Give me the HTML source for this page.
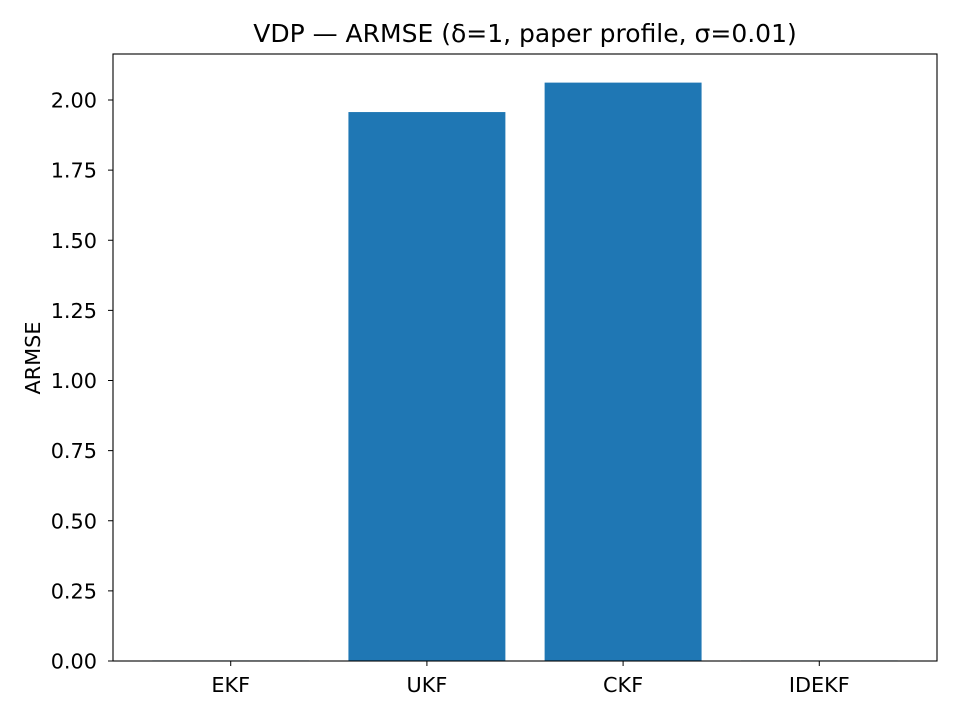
<!DOCTYPE html>
<html><head><meta charset="utf-8"><style>
body{margin:0;background:#fff}
svg text{font-family:"DejaVu Sans","Liberation Sans",sans-serif;fill:#000}
</style></head><body>
<svg id="chart" width="960" height="720" viewBox="0 0 960 720">
<rect width="960" height="720" fill="#fff"/>
<text x="525" y="42" font-size="25" text-anchor="middle">VDP — ARMSE (δ=1, paper profile, σ=0.01)</text>
<text transform="translate(40,358) rotate(-90)" font-size="20.8" text-anchor="middle">ARMSE</text>
<g id="bars"></g><g id="yticks"></g><g id="xticks"></g>
<rect x="113" y="54" width="824" height="607" fill="none" stroke="#000" stroke-width="1.1"/>
</svg>
<script>
const categories=["EKF","UKF","CKF","IDEKF"];
const values=[0.002,1.957,2.062,0.002];
const yTickLabels=["0.00","0.25","0.50","0.75","1.00","1.25","1.50","1.75","2.00"];
const yTickValues=[0,0.25,0.5,0.75,1,1.25,1.5,1.75,2];
const L=113,R=937,T=54,B=661,yMax=2.164,xMin=-0.6,xMax=3.6;
const ns="http://www.w3.org/2000/svg";
const x=v=>L+(v-xMin)/(xMax-xMin)*(R-L);
const y=v=>B-v/yMax*(B-T);
function mk(tag,attrs,parent){const e=document.createElementNS(ns,tag);for(const k in attrs)e.setAttribute(k,attrs[k]);parent.appendChild(e);return e;}
const gb=document.getElementById('bars'),gy=document.getElementById('yticks'),gx=document.getElementById('xticks');
categories.forEach((c,i)=>{
 const x0=x(i-0.4),x1=x(i+0.4);
 const r=mk('rect',{x:x0,y:y(values[i]),width:x1-x0,height:Math.max(B-y(values[i]),0.8),fill:'#1f77b4'},gb);
 
 
 const t=mk('line',{x1:x(i),x2:x(i),y1:B,y2:B+5,stroke:'#000'},gx);
 
 
 const tx=mk('text',{x:x(i),y:B+31,'font-size':20.8,'text-anchor':'middle'},gx);
 tx.textContent=c;
 
 
});
yTickValues.forEach((v,i)=>{
 const t=mk('line',{x1:L-5,x2:L,y1:y(v),y2:y(v),stroke:'#000'},gy);
 
 
 const tx=mk('text',{x:L-16,y:y(v)+7.5,'font-size':20.8,'text-anchor':'end'},gy);
 tx.textContent=yTickLabels[i];
 
 
});
</script>
</body></html>
